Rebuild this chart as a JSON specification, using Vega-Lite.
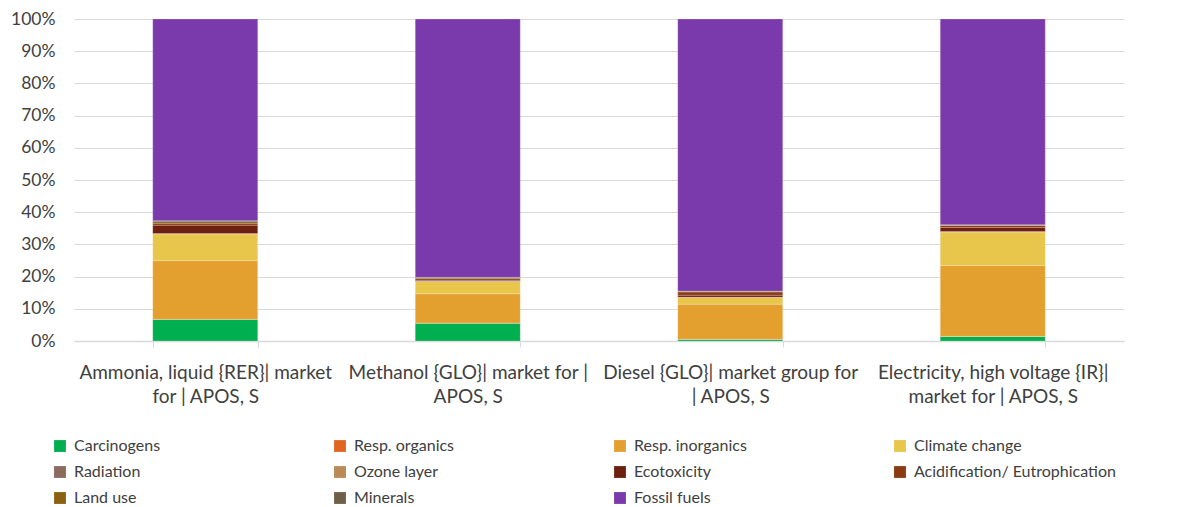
{
  "$schema": "https://vega.github.io/schema/vega-lite/v6.json",
  "autosize": "none",
  "width": 1050,
  "height": 322,
  "padding": {"left": 74, "top": 19, "right": 54, "bottom": 166},
  "background": "white",
  "config": {
    "view": {"stroke": null},
    "font": "Lato",
    "axis": {"labelFont": "Lato", "labelColor": "#404040"}
  },
  "data": {
    "values": [
      {"product": "Ammonia, liquid {RER}| market\nfor | APOS, S", "category": "Carcinogens", "share": 6.7},
      {"product": "Ammonia, liquid {RER}| market\nfor | APOS, S", "category": "Resp. organics", "share": 0.05},
      {"product": "Ammonia, liquid {RER}| market\nfor | APOS, S", "category": "Resp. inorganics", "share": 18.2},
      {"product": "Ammonia, liquid {RER}| market\nfor | APOS, S", "category": "Climate change", "share": 8.3},
      {"product": "Ammonia, liquid {RER}| market\nfor | APOS, S", "category": "Radiation", "share": 0.1},
      {"product": "Ammonia, liquid {RER}| market\nfor | APOS, S", "category": "Ozone layer", "share": 0.02},
      {"product": "Ammonia, liquid {RER}| market\nfor | APOS, S", "category": "Ecotoxicity", "share": 2.6},
      {"product": "Ammonia, liquid {RER}| market\nfor | APOS, S", "category": "Acidification/ Eutrophication", "share": 0.6},
      {"product": "Ammonia, liquid {RER}| market\nfor | APOS, S", "category": "Land use", "share": 0.5},
      {"product": "Ammonia, liquid {RER}| market\nfor | APOS, S", "category": "Minerals", "share": 0.3},
      {"product": "Ammonia, liquid {RER}| market\nfor | APOS, S", "category": "Fossil fuels", "share": 62.63},

      {"product": "Methanol {GLO}| market for |\nAPOS, S", "category": "Carcinogens", "share": 5.5},
      {"product": "Methanol {GLO}| market for |\nAPOS, S", "category": "Resp. organics", "share": 0.05},
      {"product": "Methanol {GLO}| market for |\nAPOS, S", "category": "Resp. inorganics", "share": 9.1},
      {"product": "Methanol {GLO}| market for |\nAPOS, S", "category": "Climate change", "share": 3.8},
      {"product": "Methanol {GLO}| market for |\nAPOS, S", "category": "Radiation", "share": 0.05},
      {"product": "Methanol {GLO}| market for |\nAPOS, S", "category": "Ozone layer", "share": 0.02},
      {"product": "Methanol {GLO}| market for |\nAPOS, S", "category": "Ecotoxicity", "share": 0.3},
      {"product": "Methanol {GLO}| market for |\nAPOS, S", "category": "Acidification/ Eutrophication", "share": 0.5},
      {"product": "Methanol {GLO}| market for |\nAPOS, S", "category": "Land use", "share": 0.3},
      {"product": "Methanol {GLO}| market for |\nAPOS, S", "category": "Minerals", "share": 0.15},
      {"product": "Methanol {GLO}| market for |\nAPOS, S", "category": "Fossil fuels", "share": 80.23},

      {"product": "Diesel {GLO}| market group for\n| APOS, S", "category": "Carcinogens", "share": 0.5},
      {"product": "Diesel {GLO}| market group for\n| APOS, S", "category": "Resp. organics", "share": 0.05},
      {"product": "Diesel {GLO}| market group for\n| APOS, S", "category": "Resp. inorganics", "share": 10.9},
      {"product": "Diesel {GLO}| market group for\n| APOS, S", "category": "Climate change", "share": 2.1},
      {"product": "Diesel {GLO}| market group for\n| APOS, S", "category": "Radiation", "share": 0.05},
      {"product": "Diesel {GLO}| market group for\n| APOS, S", "category": "Ozone layer", "share": 0.02},
      {"product": "Diesel {GLO}| market group for\n| APOS, S", "category": "Ecotoxicity", "share": 0.6},
      {"product": "Diesel {GLO}| market group for\n| APOS, S", "category": "Acidification/ Eutrophication", "share": 1.0},
      {"product": "Diesel {GLO}| market group for\n| APOS, S", "category": "Land use", "share": 0.2},
      {"product": "Diesel {GLO}| market group for\n| APOS, S", "category": "Minerals", "share": 0.1},
      {"product": "Diesel {GLO}| market group for\n| APOS, S", "category": "Fossil fuels", "share": 84.48},

      {"product": "Electricity, high voltage {IR}|\nmarket for | APOS, S", "category": "Carcinogens", "share": 1.4},
      {"product": "Electricity, high voltage {IR}|\nmarket for | APOS, S", "category": "Resp. organics", "share": 0.05},
      {"product": "Electricity, high voltage {IR}|\nmarket for | APOS, S", "category": "Resp. inorganics", "share": 22.0},
      {"product": "Electricity, high voltage {IR}|\nmarket for | APOS, S", "category": "Climate change", "share": 10.4},
      {"product": "Electricity, high voltage {IR}|\nmarket for | APOS, S", "category": "Radiation", "share": 0.1},
      {"product": "Electricity, high voltage {IR}|\nmarket for | APOS, S", "category": "Ozone layer", "share": 0.02},
      {"product": "Electricity, high voltage {IR}|\nmarket for | APOS, S", "category": "Ecotoxicity", "share": 1.3},
      {"product": "Electricity, high voltage {IR}|\nmarket for | APOS, S", "category": "Acidification/ Eutrophication", "share": 0.6},
      {"product": "Electricity, high voltage {IR}|\nmarket for | APOS, S", "category": "Land use", "share": 0.15},
      {"product": "Electricity, high voltage {IR}|\nmarket for | APOS, S", "category": "Minerals", "share": 0.1},
      {"product": "Electricity, high voltage {IR}|\nmarket for | APOS, S", "category": "Fossil fuels", "share": 63.88}
    ]
  },
  "transform": [
    {
      "calculate": "indexof(['Carcinogens','Resp. organics','Resp. inorganics','Climate change','Radiation','Ozone layer','Ecotoxicity','Acidification/ Eutrophication','Land use','Minerals','Fossil fuels'], datum.category)",
      "as": "order"
    }
  ],
  "mark": {"type": "bar", "stroke": "white", "strokeWidth": 0.4, "strokeOpacity": 0.5},
  "encoding": {
    "x": {
      "field": "product",
      "type": "nominal",
      "sort": null,
      "scale": {"paddingInner": 0.6, "paddingOuter": 0.3},
      "axis": {
        "title": null,
        "labelAngle": 0,
        "labelExpr": "split(datum.label, '\\n')",
        "labelFontSize": 19,
        "labelPadding": 16,
        "labelLineHeight": 24,
        "labelLimit": 300,
        "tickBand": "extent",
        "tickSize": 6,
        "tickColor": "#d9d9d9",
        "domainColor": "#d9d9d9",
        "domainWidth": 1.5
      }
    },
    "y": {
      "field": "share",
      "type": "quantitative",
      "stack": "normalize",
      "scale": {"domain": [0, 1]},
      "axis": {
        "title": null,
        "format": ".0%",
        "values": [0, 0.1, 0.2, 0.3, 0.4, 0.5, 0.6, 0.7, 0.8, 0.9, 1],
        "labelFontSize": 17.5,
        "domain": false,
        "ticks": false,
        "labelPadding": 19,
        "gridColor": "#d9d9d9",
        "gridWidth": 1.2
      }
    },
    "order": {"field": "order", "type": "quantitative"},
    "color": {
      "field": "category",
      "type": "nominal",
      "scale": {
        "domain": ["Carcinogens", "Resp. organics", "Resp. inorganics", "Climate change", "Radiation", "Ozone layer", "Ecotoxicity", "Acidification/ Eutrophication", "Land use", "Minerals", "Fossil fuels"],
        "range": ["#00b050", "#e0661f", "#e3a02f", "#e8c54b", "#8c6b5e", "#b98a56", "#6e2010", "#8b3a12", "#8b6010", "#6e6048", "#7b3aab"]
      },
      "legend": {
        "title": null,
        "orient": "none",
        "legendX": -22,
        "legendY": 419,
        "direction": "horizontal",
        "columns": 4,
        "gridAlign": "all",
        "columnPadding": 56,
        "rowPadding": 10,
        "symbolType": "square",
        "symbolSize": 140,
        "symbolStrokeWidth": 0,
        "symbolOffset": 0,
        "labelFont": "Lato",
        "labelFontSize": 16,
        "labelColor": "#404040",
        "labelOffset": 6,
        "labelLimit": 300
      }
    }
  }
}
